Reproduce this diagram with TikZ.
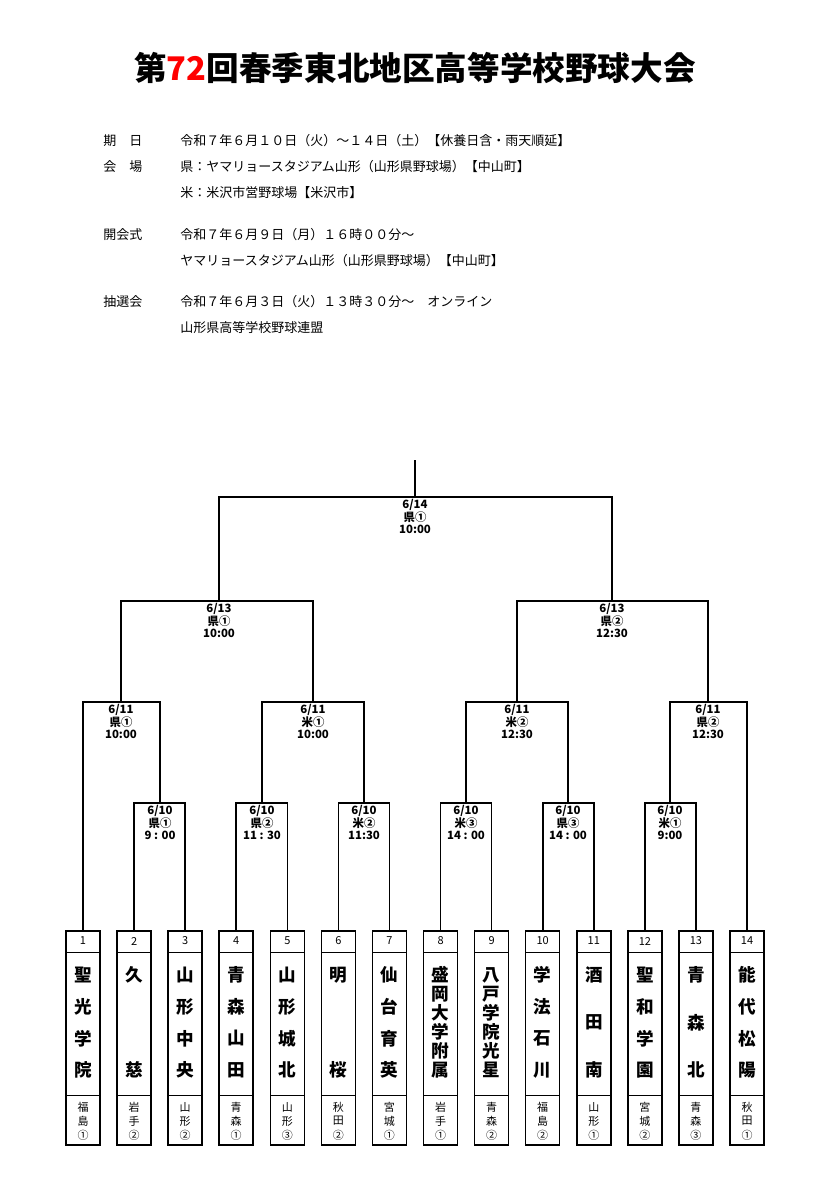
\documentclass[tikz,border=0pt]{standalone}
\usepackage{fontspec}
\setmainfont{Noto Sans CJK JP}
\begin{document}
\begin{tikzpicture}[x=0.5pt,y=-0.5pt,
 box/.style={draw,line width=0.75pt,minimum width=17pt,minimum height=107pt,inner sep=0pt},
 nm/.style={font=\fontsize{8.8}{9}\selectfont\bfseries,inner sep=0pt},
 sm/.style={font=\fontsize{5.5}{6}\selectfont,inner sep=0pt},
 lb/.style={font=\fontsize{5.7}{6.3}\selectfont\bfseries,align=center,inner sep=0pt,anchor=north},
 ln/.style={line width=0.8pt},
 inf/.style={font=\fontsize{6.5}{7}\selectfont,anchor=west,inner sep=0pt}]
\useasboundingbox (0,0) rectangle (819,1200);
\node[font=\fontsize{16.3}{17}\selectfont\bfseries] (title) at (415,68) {第\textcolor{red}{72}回春季東北地区高等学校野球大会};
\node[inf] (a1) at (103,141) {期\hspace{1em}日};
\node[inf] (a2) at (180,141) {令和７年６月１０日（火）～１４日（土）【休養日含・雨天順延】};
\node[inf] (a3) at (103,167) {会\hspace{1em}場};
\node[inf] (a4) at (180,167) {県：ヤマリョースタジアム山形（山形県野球場）【中山町】};
\node[inf] (a5) at (180,193) {米：米沢市営野球場【米沢市】};
\node[inf] (a6) at (103,235) {開会式};
\node[inf] (a7) at (180,235) {令和７年６月９日（月）１６時００分～};
\node[inf] (a8) at (180,261) {ヤマリョースタジアム山形（山形県野球場）【中山町】};
\node[inf] (a9) at (103,302) {抽選会};
\node[inf] (a10) at (180,302) {令和７年６月３日（火）１３時３０分～\quad オンライン};
\node[inf] (a11) at (180,328) {山形県高等学校野球連盟};
\newcommand\tm[6]{%
 \pgfmathsetmacro\cx{83+51.08*(#1-1)}
 \node[box] (t#1) at (\cx,1038) {};
 \draw[line width=0.5pt] (\cx-17,952) -- (\cx+17,952) (\cx-17,1095) -- (\cx+17,1095);
 \node[sm] (n#1) at (\cx,941) {#1};
 \foreach \c [count=\i] in {#3} \node[nm] (c#1-\i) at (\cx,{975+(\i-1)*95/(#2-1)}) {\c};
 \node[sm] (p#1a) at (\cx,1107) {#4};
 \node[sm] (p#1b) at (\cx,1121) {#5};
 \node[sm] (p#1c) at (\cx,1135) {#6};}
\tm{1}{4}{聖,光,学,院}{福}{島}{①}
\tm{2}{2}{久,慈}{岩}{手}{②}
\tm{3}{4}{山,形,中,央}{山}{形}{②}
\tm{4}{4}{青,森,山,田}{青}{森}{①}
\tm{5}{4}{山,形,城,北}{山}{形}{③}
\tm{6}{2}{明,桜}{秋}{田}{②}
\tm{7}{4}{仙,台,育,英}{宮}{城}{①}
\tm{8}{6}{盛,岡,大,学,附,属}{岩}{手}{①}
\tm{9}{6}{八,戸,学,院,光,星}{青}{森}{②}
\tm{10}{4}{学,法,石,川}{福}{島}{②}
\tm{11}{3}{酒,田,南}{山}{形}{①}
\tm{12}{4}{聖,和,学,園}{宮}{城}{②}
\tm{13}{3}{青,森,北}{青}{森}{③}
\tm{14}{4}{能,代,松,陽}{秋}{田}{①}
% round 1
\coordinate (g1) at (160,803);
\coordinate (g2) at (262,803);
\coordinate (g3) at (364,803);
\coordinate (g4) at (466,803);
\coordinate (g5) at (568,803);
\coordinate (g6) at (670,803);
\draw[ln] (t2.north) |- (g1) -| (t3.north);
\draw[ln] (t4.north) |- (g2) -| (t5.north);
\draw[ln] (t6.north) |- (g3) -| (t7.north);
\draw[ln] (t8.north) |- (g4) -| (t9.north);
\draw[ln] (t10.north) |- (g5) -| (t11.north);
\draw[ln] (t12.north) |- (g6) -| (t13.north);
% round 2
\coordinate (h1) at (121,702);
\coordinate (h2) at (313,702);
\coordinate (h3) at (517,702);
\coordinate (h4) at (708,702);
\draw[ln] (t1.north) |- (h1) -| (g1);
\draw[ln] (g2) |- (h2) -| (g3);
\draw[ln] (g4) |- (h3) -| (g5);
\draw[ln] (g6) |- (h4) -| (t14.north);
% round 3
\coordinate (k1) at (219,601);
\coordinate (k2) at (612,601);
\draw[ln] (h1) |- (k1) -| (h2);
\draw[ln] (h3) |- (k2) -| (h4);
\coordinate (f) at (415,497);
\coordinate (top) at (415,460);
\draw[ln] (k1) |- (f) -| (k2);
\draw[ln] (f) -- (top);
% labels
\node[lb] (L1) at (160,805) {6/10\\県①\\9 : 00};
\node[lb] (L2) at (262,805) {6/10\\県②\\11 : 30};
\node[lb] (L3) at (364,805) {6/10\\米②\\11:30};
\node[lb] (L4) at (466,805) {6/10\\米③\\14 : 00};
\node[lb] (L5) at (568,805) {6/10\\県③\\14 : 00};
\node[lb] (L6) at (670,805) {6/10\\米①\\9:00};
\node[lb] (M1) at (121,704) {6/11\\県①\\10:00};
\node[lb] (M2) at (313,704) {6/11\\米①\\10:00};
\node[lb] (M3) at (517,704) {6/11\\米②\\12:30};
\node[lb] (M4) at (708,704) {6/11\\県②\\12:30};
\node[lb] (S1) at (219,603) {6/13\\県①\\10:00};
\node[lb] (S2) at (612,603) {6/13\\県②\\12:30};
\node[lb] (F) at (415,499) {6/14\\県①\\10:00};
\end{tikzpicture}
\end{document}
